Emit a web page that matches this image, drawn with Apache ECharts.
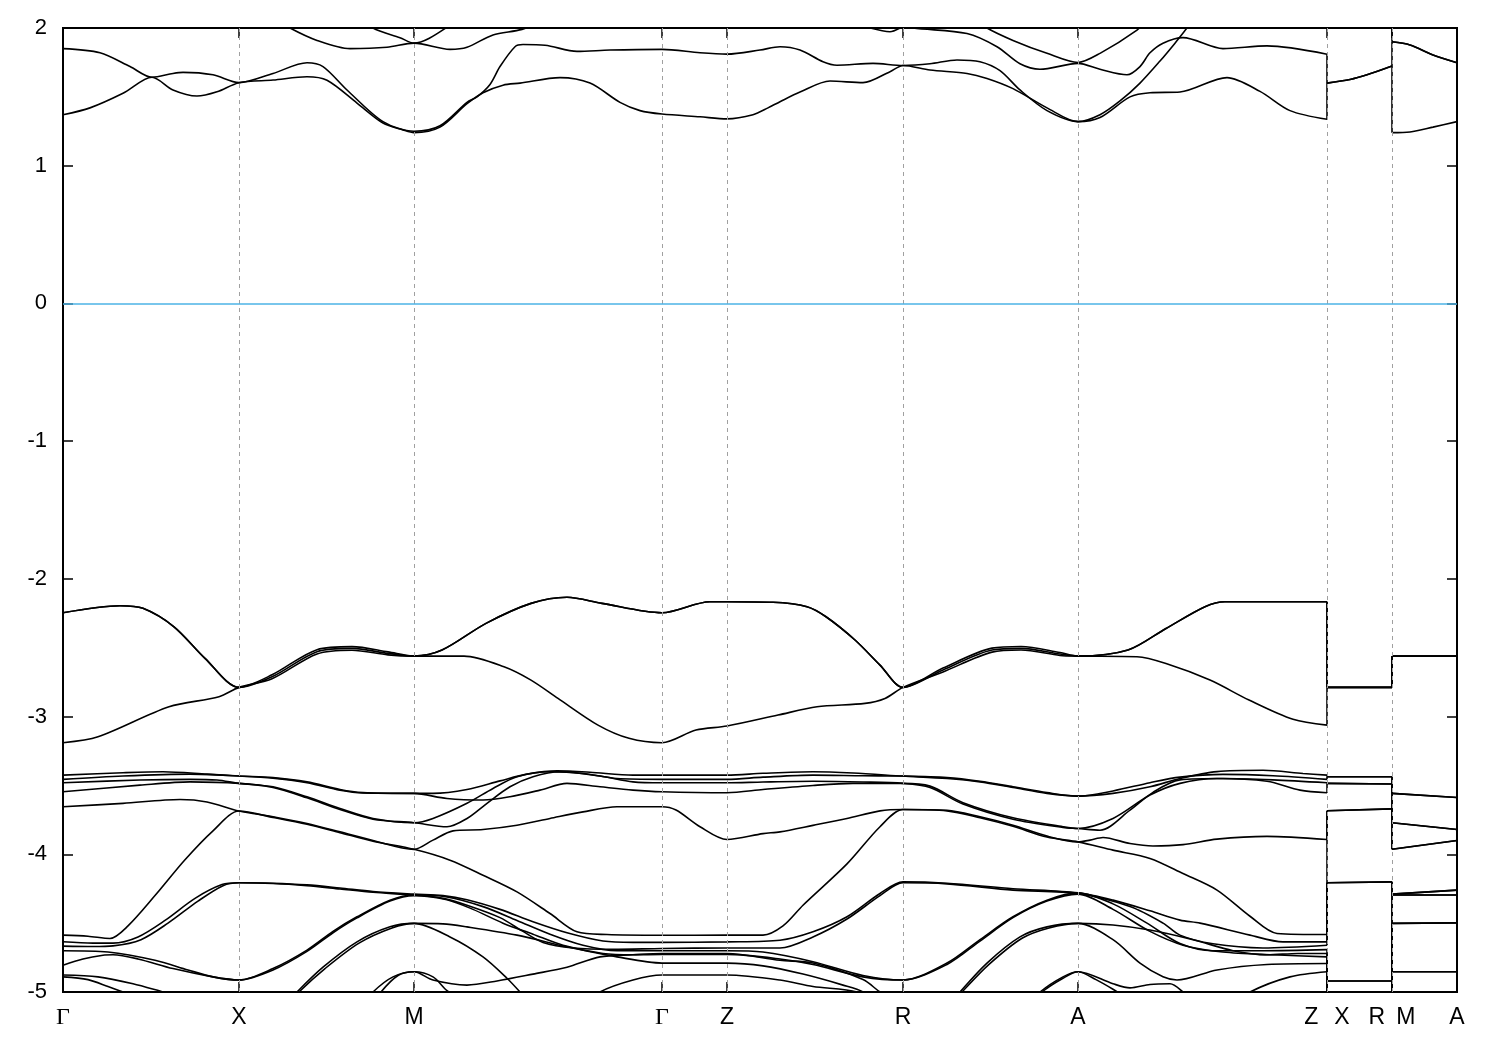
<!DOCTYPE html>
<html><head><meta charset="utf-8">
<script src="https://cdn.jsdelivr.net/npm/echarts@6/dist/echarts.min.js"></script>
<style>html,body{margin:0;padding:0;background:#fff}#c{width:1500px;height:1050px}</style>
</head><body><div id="c"></div>
<script>
// ---- k-path (high-symmetry points) ----
const kTicks  = [0, 176, 351, 599, 664, 840, 1015, 1264, 1329, 1394];
const kLabels = ['Γ', 'X', 'M', 'Γ', 'Z', 'R', 'A', 'Z|X', 'R|M', 'A'];
const fermiLevel = 0;

// ---- conduction bands [k, E(eV)] ----
const cb1 = [[0,1.37],[27,1.42],[60,1.526],[89,1.642],[110,1.55],[134,1.506],[154,1.537],[176,1.603],[210,1.622],[244,1.646],[264,1.62],[294,1.455],[320,1.31],[340,1.26],[351,1.24],[377,1.28],[404,1.45],[420,1.53],[440,1.585],[457,1.60],[497,1.64],[527,1.60],[557,1.46],[577,1.40],[599,1.375],[637,1.355],[664,1.34],[690,1.37],[705,1.42],[717,1.465],[737,1.535],[767,1.615],[800,1.603],[827,1.683],[840,1.728],[867,1.695],[904,1.67],[924,1.634],[950,1.56],[984,1.42],[1015,1.32],[1037,1.35],[1067,1.50],[1087,1.53],[1117,1.535],[1164,1.64],[1197,1.54],[1227,1.40],[1264,1.337],[1264,1.60],[1287,1.626],[1304,1.66],[1329,1.724],[1329,1.24],[1347,1.245],[1370,1.28],[1394,1.32]];
const cb2 = [[0,1.85],[37,1.82],[67,1.72],[89,1.642],[110,1.67],[120,1.678],[150,1.66],[176,1.603],[210,1.67],[244,1.748],[260,1.72],[284,1.55],[320,1.32],[351,1.25],[377,1.29],[404,1.46],[414,1.50],[427,1.59],[437,1.72],[452,1.864],[460,1.88],[482,1.875],[514,1.83],[547,1.84],[599,1.845],[637,1.82],[664,1.81],[697,1.84],[717,1.864],[737,1.84],[760,1.755],[774,1.73],[810,1.743],[840,1.728],[867,1.74],[894,1.768],[917,1.755],[937,1.69],[957,1.55],[984,1.40],[1015,1.32],[1037,1.37],[1057,1.47],[1077,1.60],[1097,1.76],[1112,1.89],[1124,2.0],[1137,2.12]];
const cb3 = [[215,2.06],[227,2.0],[254,1.91],[287,1.85],[324,1.86],[351,1.89],[387,1.845],[404,1.86],[430,1.95],[459,1.99],[477,2.05]];
const cb4 = [[297,2.1],[310,2.0],[337,1.93],[351,1.89],[387,2.02],[397,2.1]];
const cb5 = [[797,2.03],[807,2.0],[827,1.973],[837,2.0],[842,2.03]];
const cb6 = [[842,2.02],[850,2.0],[904,1.96],[934,1.864],[957,1.74],[977,1.70],[1015,1.743],[1037,1.70],[1064,1.66],[1077,1.72],[1087,1.82],[1100,1.89],[1120,1.93],[1160,1.85],[1204,1.87],[1264,1.81],[1264,1.60],[1287,1.626],[1304,1.66],[1329,1.724],[1329,1.90],[1347,1.877],[1370,1.804],[1394,1.748]];
const cb7 = [[917,2.05],[924,2.0],[950,1.91],[984,1.816],[1015,1.75],[1037,1.816],[1074,1.985],[1082,2.05]];
const cb8 = [[1264,2.2],[1329,2.2],[1329,1.90],[1347,1.877],[1370,1.804],[1394,1.748]];

// ---- upper valence bands ----
const vb1 = [[0,-2.246],[57,-2.195],[80,-2.214],[111,-2.348],[142,-2.577],[176,-2.788],[209,-2.711],[254,-2.529],[289,-2.505],[325,-2.541],[351,-2.561],[379,-2.517],[423,-2.323],[468,-2.178],[504,-2.134],[539,-2.178],[599,-2.246],[647,-2.166],[664,-2.166],[710,-2.17],[744,-2.202],[763,-2.275],[792,-2.444],[817,-2.626],[840,-2.788],[880,-2.662],[929,-2.517],[958,-2.505],[997,-2.546],[1015,-2.561],[1065,-2.517],[1103,-2.36],[1142,-2.202],[1162,-2.166],[1264,-2.166],[1264,-2.788],[1329,-2.788],[1329,-2.561],[1394,-2.561]];
const vb2 = [[0,-3.19],[35,-3.147],[106,-2.929],[156,-2.856],[176,-2.788],[209,-2.725],[254,-2.545],[289,-2.518],[325,-2.552],[351,-2.561],[401,-2.561],[441,-2.638],[468,-2.735],[495,-2.868],[535,-3.062],[566,-3.158],[599,-3.19],[633,-3.098],[664,-3.069],[715,-2.989],[754,-2.929],[802,-2.904],[822,-2.868],[840,-2.788],[880,-2.676],[929,-2.532],[958,-2.517],[997,-2.556],[1015,-2.561],[1074,-2.566],[1103,-2.615],[1147,-2.735],[1186,-2.88],[1230,-3.02],[1264,-3.062],[1264,-2.788],[1329,-2.788],[1329,-2.561],[1394,-2.561]];
const vb3 = [[0,-2.246],[57,-2.195],[80,-2.214],[111,-2.348],[142,-2.577],[176,-2.788],[209,-2.697],[254,-2.514],[289,-2.492],[325,-2.53],[351,-2.561],[379,-2.517],[423,-2.323],[468,-2.178],[504,-2.134],[539,-2.178],[599,-2.246],[647,-2.166],[664,-2.166],[710,-2.17],[744,-2.202],[763,-2.275],[792,-2.444],[817,-2.626],[840,-2.788],[880,-2.648],[929,-2.503],[958,-2.491],[997,-2.535],[1015,-2.561],[1065,-2.517],[1103,-2.36],[1142,-2.202],[1162,-2.166],[1264,-2.166],[1264,-2.788],[1329,-2.788],[1329,-2.561],[1394,-2.561]];

// ---- deeper valence manifold ----
const db1 = [[0,-3.425],[60,-3.408],[100,-3.401],[144,-3.418],[176,-3.432],[210,-3.443],[244,-3.474],[277,-3.53],[300,-3.552],[351,-3.558],[370,-3.558],[404,-3.53],[437,-3.467],[464,-3.418],[494,-3.394],[527,-3.404],[570,-3.425],[599,-3.425],[664,-3.425],[700,-3.412],[750,-3.401],[790,-3.41],[840,-3.432],[884,-3.45],[917,-3.474],[950,-3.515],[984,-3.558],[1015,-3.578],[1050,-3.558],[1087,-3.51],[1117,-3.45],[1154,-3.40],[1200,-3.39],[1240,-3.413],[1264,-3.425],[1264,-3.437],[1329,-3.437],[1329,-3.558],[1394,-3.588]];
const db2 = [[0,-3.456],[60,-3.432],[127,-3.418],[176,-3.432],[210,-3.447],[244,-3.48],[277,-3.535],[300,-3.555],[351,-3.558],[384,-3.595],[420,-3.606],[447,-3.582],[477,-3.534],[504,-3.485],[537,-3.51],[570,-3.534],[599,-3.546],[664,-3.553],[700,-3.53],[750,-3.50],[790,-3.485],[840,-3.485],[867,-3.505],[900,-3.625],[950,-3.735],[1000,-3.80],[1015,-3.813],[1050,-3.74],[1087,-3.57],[1117,-3.485],[1154,-3.45],[1204,-3.47],[1237,-3.534],[1264,-3.553],[1264,-3.485],[1329,-3.49],[1329,-3.558],[1394,-3.588]];
const db3 = [[0,-3.481],[77,-3.461],[127,-3.456],[154,-3.461],[176,-3.485],[210,-3.51],[244,-3.583],[277,-3.668],[310,-3.74],[351,-3.771],[370,-3.74],[404,-3.63],[430,-3.522],[454,-3.437],[487,-3.401],[520,-3.413],[554,-3.45],[599,-3.456],[664,-3.456],[700,-3.44],[750,-3.425],[800,-3.43],[840,-3.432],[884,-3.443],[917,-3.47],[950,-3.51],[984,-3.552],[1015,-3.578],[1050,-3.54],[1087,-3.48],[1117,-3.44],[1160,-3.42],[1210,-3.43],[1264,-3.456],[1264,-3.437],[1329,-3.437],[1329,-3.771],[1394,-3.82]];
const db4 = [[0,-3.546],[77,-3.498],[127,-3.474],[176,-3.485],[210,-3.515],[244,-3.59],[277,-3.675],[310,-3.745],[351,-3.771],[384,-3.80],[404,-3.74],[424,-3.63],[447,-3.51],[470,-3.437],[497,-3.401],[537,-3.432],[570,-3.474],[599,-3.481],[664,-3.481],[700,-3.475],[750,-3.47],[800,-3.475],[840,-3.485],[867,-3.515],[900,-3.635],[950,-3.745],[1000,-3.805],[1015,-3.813],[1037,-3.825],[1067,-3.68],[1090,-3.55],[1117,-3.46],[1160,-3.45],[1210,-3.46],[1264,-3.481],[1264,-3.485],[1329,-3.49],[1329,-3.771],[1394,-3.82]];
const db5 = [[0,-3.655],[60,-3.63],[117,-3.602],[144,-3.62],[176,-3.686],[210,-3.727],[244,-3.776],[277,-3.837],[310,-3.90],[351,-3.964],[370,-3.897],[390,-3.83],[420,-3.82],[454,-3.789],[487,-3.74],[520,-3.692],[554,-3.655],[599,-3.655],[613,-3.679],[637,-3.80],[664,-3.893],[700,-3.85],[717,-3.837],[750,-3.79],[784,-3.74],[817,-3.685],[840,-3.675],[884,-3.68],[917,-3.728],[950,-3.789],[984,-3.868],[1015,-3.91],[1027,-3.897],[1040,-3.878],[1067,-3.922],[1090,-3.94],[1120,-3.93],[1154,-3.89],[1204,-3.87],[1264,-3.893],[1264,-3.684],[1329,-3.67],[1329,-3.964],[1394,-3.90]];
const db6 = [[0,-4.587],[25,-4.595],[47,-4.611],[65,-4.52],[92,-4.30],[122,-4.04],[150,-3.83],[176,-3.686],[210,-3.732],[244,-3.782],[277,-3.843],[310,-3.905],[351,-3.964],[387,-4.043],[420,-4.152],[454,-4.273],[487,-4.43],[514,-4.563],[544,-4.583],[599,-4.588],[664,-4.587],[700,-4.587],[720,-4.52],[740,-4.37],[784,-4.07],[817,-3.80],[840,-3.675],[884,-3.685],[917,-3.735],[950,-3.797],[984,-3.875],[1015,-3.91],[1050,-3.97],[1087,-4.03],[1120,-4.14],[1154,-4.26],[1187,-4.45],[1214,-4.575],[1264,-4.583],[1264,-3.684],[1329,-3.67],[1329,-3.964],[1394,-3.90]];
const db7 = [[0,-4.635],[30,-4.645],[50,-4.645],[75,-4.60],[102,-4.48],[132,-4.32],[159,-4.22],[176,-4.207],[210,-4.21],[244,-4.222],[277,-4.245],[310,-4.27],[351,-4.289],[380,-4.30],[404,-4.33],[437,-4.40],[470,-4.49],[504,-4.57],[540,-4.63],[570,-4.64],[599,-4.64],[664,-4.636],[717,-4.624],[750,-4.563],[784,-4.454],[817,-4.285],[840,-4.20],[884,-4.21],[950,-4.25],[1015,-4.28],[1050,-4.333],[1087,-4.41],[1117,-4.478],[1137,-4.50],[1187,-4.587],[1220,-4.636],[1264,-4.636],[1264,-4.207],[1329,-4.20],[1329,-4.289],[1394,-4.26]];
const db8 = [[0,-4.667],[30,-4.67],[50,-4.665],[78,-4.62],[105,-4.50],[135,-4.34],[160,-4.228],[176,-4.207],[210,-4.212],[244,-4.228],[277,-4.252],[310,-4.276],[351,-4.296],[380,-4.32],[404,-4.37],[437,-4.46],[460,-4.56],[480,-4.64],[510,-4.68],[550,-4.69],[599,-4.684],[664,-4.68],[717,-4.68],[750,-4.60],[784,-4.47],[817,-4.30],[840,-4.207],[884,-4.215],[950,-4.26],[1015,-4.285],[1067,-4.38],[1100,-4.50],[1117,-4.587],[1150,-4.65],[1200,-4.68],[1264,-4.66],[1264,-4.207],[1329,-4.20],[1329,-4.296],[1394,-4.296]];
const db9 = [[0,-4.70],[45,-4.71],[92,-4.77],[125,-4.84],[150,-4.89],[176,-4.913],[210,-4.83],[244,-4.696],[270,-4.56],[294,-4.454],[327,-4.333],[351,-4.296],[384,-4.31],[420,-4.38],[454,-4.48],[487,-4.58],[520,-4.66],[554,-4.70],[599,-4.70],[664,-4.70],[700,-4.71],[750,-4.78],[800,-4.88],[840,-4.913],[884,-4.79],[917,-4.62],[950,-4.454],[984,-4.333],[1015,-4.28],[1050,-4.36],[1084,-4.50],[1117,-4.648],[1150,-4.70],[1200,-4.70],[1264,-4.692],[1264,-4.92],[1329,-4.92],[1329,-4.296],[1394,-4.296]];
const db10 = [[0,-4.805],[20,-4.76],[40,-4.733],[50,-4.73],[75,-4.76],[110,-4.83],[150,-4.89],[176,-4.913],[210,-4.84],[244,-4.705],[270,-4.57],[294,-4.462],[327,-4.34],[351,-4.30],[384,-4.33],[410,-4.40],[440,-4.50],[470,-4.58],[500,-4.66],[540,-4.72],[570,-4.73],[599,-4.727],[664,-4.727],[717,-4.76],[750,-4.80],[800,-4.89],[840,-4.913],[884,-4.80],[917,-4.63],[950,-4.46],[984,-4.34],[1015,-4.289],[1050,-4.40],[1087,-4.56],[1120,-4.66],[1160,-4.71],[1210,-4.73],[1264,-4.745],[1264,-4.92],[1329,-4.92],[1329,-4.289],[1394,-4.26]];
const db11 = [[0,-5.35],[176,-5.35],[215,-5.15],[234,-5.0],[260,-4.82],[294,-4.636],[327,-4.527],[351,-4.502],[380,-4.505],[404,-4.527],[454,-4.587],[504,-4.672],[554,-4.745],[599,-4.79],[664,-4.79],[700,-4.81],[740,-4.87],[780,-4.95],[800,-5.0],[840,-5.2],[880,-5.15],[897,-5.0],[924,-4.79],[957,-4.60],[984,-4.527],[1015,-4.502],[1050,-4.513],[1087,-4.55],[1130,-4.62],[1170,-4.70],[1204,-4.73],[1235,-4.72],[1264,-4.72],[1264,-5.2],[1329,-5.2],[1329,-4.502],[1394,-4.498]];
const db12 = [[0,-5.35],[176,-5.35],[217,-5.15],[236,-5.0],[262,-4.83],[296,-4.645],[329,-4.535],[351,-4.502],[387,-4.60],[420,-4.745],[444,-4.90],[457,-5.0],[475,-5.15],[599,-5.3],[664,-5.3],[840,-5.3],[880,-5.15],[899,-5.0],[926,-4.80],[959,-4.61],[986,-4.535],[1015,-4.502],[1050,-4.62],[1077,-4.79],[1100,-4.89],[1114,-4.913],[1154,-4.84],[1204,-4.80],[1264,-4.793],[1264,-5.3],[1329,-5.3],[1329,-4.502],[1394,-4.498]];
const db13 = [[0,-4.877],[35,-4.89],[70,-4.94],[100,-5.0],[130,-5.06],[176,-5.2],[290,-5.2],[300,-5.1],[310,-5.0],[330,-4.89],[351,-4.853],[370,-4.89],[384,-4.99],[397,-5.05],[420,-5.15],[510,-5.15],[537,-5.0],[570,-4.913],[599,-4.877],[664,-4.877],[717,-4.913],[750,-4.96],[794,-5.0],[820,-5.1],[840,-5.2],[950,-5.2],[965,-5.1],[977,-5.0],[1000,-4.89],[1015,-4.853],[1050,-4.94],[1067,-4.97],[1087,-4.945],[1107,-4.94],[1120,-5.0],[1135,-5.1],[1170,-5.1],[1187,-5.0],[1227,-4.89],[1264,-4.853],[1264,-5.2],[1329,-5.2],[1329,-4.853],[1394,-4.853]];
const db14 = [[0,-4.89],[25,-4.91],[45,-4.96],[60,-5.0],[80,-5.06],[176,-5.25],[300,-5.2],[310,-5.1],[318,-5.0],[335,-4.88],[351,-4.853],[370,-4.913],[404,-4.95],[434,-4.92],[470,-4.87],[504,-4.82],[537,-4.745],[570,-4.73],[599,-4.72],[664,-4.72],[717,-4.77],[750,-4.79],[800,-4.91],[817,-5.0],[840,-5.1],[955,-5.2],[967,-5.1],[979,-5.0],[1000,-4.90],[1015,-4.853],[1033,-4.91],[1050,-4.98],[1065,-5.05],[1100,-5.2],[1264,-5.3],[1329,-5.3],[1329,-4.853],[1394,-4.853]];

const bands = [cb1,cb2,cb3,cb4,cb5,cb6,cb7,cb8,vb1,vb2,vb3,db1,db2,db3,db4,db5,db6,db7,db8,db9,db10,db11,db12,db13,db14];

// ---- chart ----
const FONT = 'Liberation Sans';
const labelMap = {};
kTicks.forEach((k, i) => { labelMap[k] = kLabels[i]; });
function kFormatter(v) {
  const l = labelMap[v];
  if (l === undefined) return '';
  if (l === 'Γ') return '{g|Γ}';
  if (l === 'Z|X') return 'Z{gapA| }X';
  if (l === 'R|M') return 'R{gapB| }M';
  return l;
}

// split a band at path discontinuities (repeated k): smooth pieces + straight jumps
function splitBand(b) {
  const out = [];
  let cur = [b[0]];
  for (let i = 1; i < b.length; i++) {
    if (b[i][0] === b[i - 1][0]) {
      out.push({pts: cur, smooth: true});
      out.push({pts: [b[i - 1], b[i]], smooth: false});
      cur = [b[i]];
    } else {
      cur.push(b[i]);
    }
  }
  out.push({pts: cur, smooth: true});
  return out;
}

const series = [];
series.push({
  type: 'line', data: [], silent: true, z: 1, animation: false,
  markLine: {
    silent: true, symbol: ['none', 'none'], animation: false, label: {show: false},
    lineStyle: {color: '#a0a0a0', type: [4, 4], width: 1},
    data: kTicks.slice(1, -1).map(k => ({xAxis: k}))
  }
});
series.push({
  type: 'line', data: [], silent: true, z: 2, animation: false,
  markLine: {
    silent: true, symbol: ['none', 'none'], animation: false, label: {show: false},
    lineStyle: {color: '#4db3e6', type: 'solid', width: 1.5},
    data: [{yAxis: fermiLevel}]
  }
});
bands.forEach(b => {
  splitBand(b).forEach(p => {
    if (p.pts.length < 2) return;
    series.push({
      type: 'line', data: p.pts, symbol: 'none', showSymbol: false, clip: true,
      smooth: p.smooth ? 0.3 : false,
      silent: true, z: 3, animation: false,
      lineStyle: {color: '#000', width: 1.6},
      emphasis: {disabled: true}
    });
  });
});

const chart = echarts.init(document.getElementById('c'));
chart.setOption({
  animation: false,
  backgroundColor: '#fff',
  grid: {left: 63, right: 43, top: 28, bottom: 58, show: true, borderColor: '#000', borderWidth: 2, backgroundColor: 'transparent'},
  xAxis: [{
    type: 'value', min: 0, max: 1394, position: 'bottom',
    axisLine: {show: false, onZero: false}, splitLine: {show: false},
    axisTick: {show: true, inside: true, length: 10, customValues: kTicks, lineStyle: {color: '#000', width: 1.5}},
    axisLabel: {
      show: true, customValues: kTicks, formatter: kFormatter, margin: 14,
      fontSize: 23, fontFamily: FONT, color: '#000', showMinLabel: true, showMaxLabel: true,
      rich: {
        g: {fontFamily: 'Liberation Serif', fontSize: 24, color: '#000'},
        gapA: {width: 16, fontSize: 23},
        gapB: {width: 11, fontSize: 23}
      }
    }
  }, {
    type: 'value', min: 0, max: 1394, position: 'top',
    axisLine: {show: false, onZero: false}, splitLine: {show: false},
    axisTick: {show: true, inside: true, length: 10, customValues: kTicks, lineStyle: {color: '#000', width: 1.5}},
    axisLabel: {show: false}
  }],
  yAxis: [{
    type: 'value', min: -5, max: 2, interval: 1, position: 'left',
    axisLine: {show: false, onZero: false}, splitLine: {show: false},
    axisTick: {show: true, inside: true, length: 10, lineStyle: {color: '#000', width: 1.5}},
    axisLabel: {margin: 16, fontSize: 22, fontFamily: FONT, color: '#000'}
  }, {
    type: 'value', min: -5, max: 2, interval: 1, position: 'right',
    axisLine: {show: false, onZero: false}, splitLine: {show: false},
    axisTick: {show: true, inside: true, length: 10, lineStyle: {color: '#000', width: 1.5}},
    axisLabel: {show: false}
  }],
  series: series
});
</script>
</body></html>
